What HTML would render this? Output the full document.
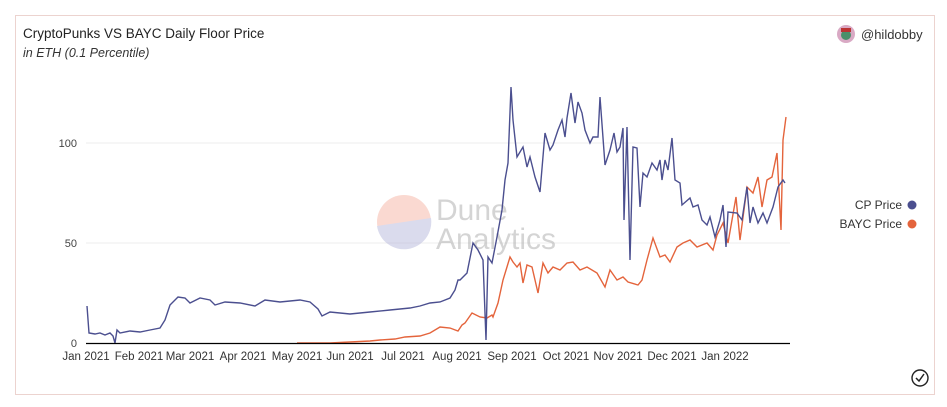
<!DOCTYPE html>
<html><head><meta charset="utf-8"><style>
body{margin:0;background:#fff;width:947px;height:407px;overflow:hidden;font-family:"Liberation Sans",sans-serif}
.card{position:absolute;left:15px;top:15px;width:918px;height:378px;border:1px solid #ecd3cf;}
.t{position:absolute;left:23px;top:26px;font-size:13.5px;color:#222}
.s{position:absolute;left:23px;top:46px;font-size:12.5px;font-style:italic;color:#333}
</style></head><body>
<div class="card"></div>
<div class="t">CryptoPunks VS BAYC Daily Floor Price</div>
<div class="s">in ETH (0.1 Percentile)</div>
<svg width="947" height="407" style="position:absolute;left:0;top:0" font-family="Liberation Sans, sans-serif">
<circle cx="846" cy="34" r="9" fill="#d9a9c4"/><circle cx="846" cy="35" r="5" fill="#4a8f6a"/><rect x="841" y="28" width="10" height="4" fill="#b33"/>
<text x="861" y="39" font-size="13" fill="#333">@hildobby</text>
<line x1="86" y1="143" x2="790" y2="143" stroke="#eee"/>
<line x1="86" y1="243" x2="790" y2="243" stroke="#eee"/>
<g font-size="11" fill="#444" text-anchor="end"><text x="77" y="147">100</text><text x="77" y="247">50</text><text x="77" y="347">0</text></g>
<g opacity="0.5">
<circle cx="404" cy="222" r="27" fill="#f6b5a5"/>
<path d="M377,226 A27,27 0 0 0 431,218 Z" fill="#b6b8dc"/>
<text x="436" y="220" font-size="30" fill="#aaa">Dune</text>
<text x="436" y="249" font-size="30" fill="#aaa">Analytics</text>
</g>
<polyline fill="none" stroke="#e4643c" stroke-width="1.4" points="297,343 330,343 350,342 370,341 380,340 395,339 405,337 420,336 430,333 440,327 450,328 458,331 462,325 465,323 472,313 480,317 487,318 492,315 493,317 498,303 503,280 510,257 513,262 517,267 520,263 523,283 527,265 532,267 538,293 543,263 548,273 553,267 560,270 567,263 573,262 580,270 587,267 597,273 605,287 610,270 617,280 623,277 628,282 638,285 642,280 647,260 653,238 660,257 665,255 670,262 677,247 683,243 690,240 697,247 707,243 713,250 717,235 723,223 728,243 736,197 740,240 747,187 753,193 758,177 762,207 767,180 772,177 777,153 781,230 783,140 786,117"/>
<polyline fill="none" stroke="#4b4f8f" stroke-width="1.4" points="87,306 89,333 95,334 100,333 105,335 110,333 113,336 115,343 117,330 120,333 130,331 140,332 150,330 160,328 165,320 170,305 178,297 185,298 190,303 200,298 210,300 215,305 225,302 240,303 255,306 265,300 280,302 300,300 310,302 318,309 322,316 330,312 350,314 370,312 390,310 410,308 420,306 430,303 440,302 450,298 455,290 458,280 460,280 467,273 473,243 478,250 483,260 486,340 488,257 492,263 497,237 502,210 505,180 508,163 511,87 513,120 517,157 523,147 527,167 530,157 535,177 540,192 545,133 550,150 553,145 558,130 562,120 565,137 567,118 571,93 575,123 578,102 582,113 585,130 590,143 593,137 598,137 600,97 605,165 610,150 614,133 617,152 620,147 623,128 624,220 627,127 630,260 633,147 637,148 640,207 643,173 647,177 652,163 657,170 660,160 662,180 665,160 668,170 672,138 675,180 680,183 682,205 690,198 693,207 698,205 702,220 707,225 710,217 715,237 720,220 723,205 726,247 728,212 737,213 742,220 747,187 750,223 753,207 758,223 763,213 767,223 773,207 778,187 783,180 785,183"/>
<line x1="86" y1="343.5" x2="790" y2="343.5" stroke="#000" stroke-width="1.2"/>
<g font-size="11.5" fill="#333" text-anchor="middle">
<text x="86" y="360">Jan 2021</text><text x="139" y="360">Feb 2021</text><text x="190" y="360">Mar 2021</text><text x="243" y="360">Apr 2021</text><text x="297" y="360">May 2021</text><text x="350" y="360">Jun 2021</text><text x="403" y="360">Jul 2021</text><text x="457" y="360">Aug 2021</text><text x="512" y="360">Sep 2021</text><text x="566" y="360">Oct 2021</text><text x="618" y="360">Nov 2021</text><text x="672" y="360">Dec 2021</text><text x="725" y="360">Jan 2022</text>
</g>
<g font-size="12" fill="#333" text-anchor="end"><text x="902" y="209">CP Price</text><text x="902" y="228">BAYC Price</text></g>
<circle cx="912" cy="205" r="4.5" fill="#4b4f8f"/><circle cx="912" cy="224" r="4.5" fill="#e4643c"/>
<circle cx="920" cy="378" r="8" fill="none" stroke="#222" stroke-width="1.4"/>
<path d="M916,378 L919,381 L924,374" fill="none" stroke="#222" stroke-width="1.5"/>
</svg>
</body></html>
